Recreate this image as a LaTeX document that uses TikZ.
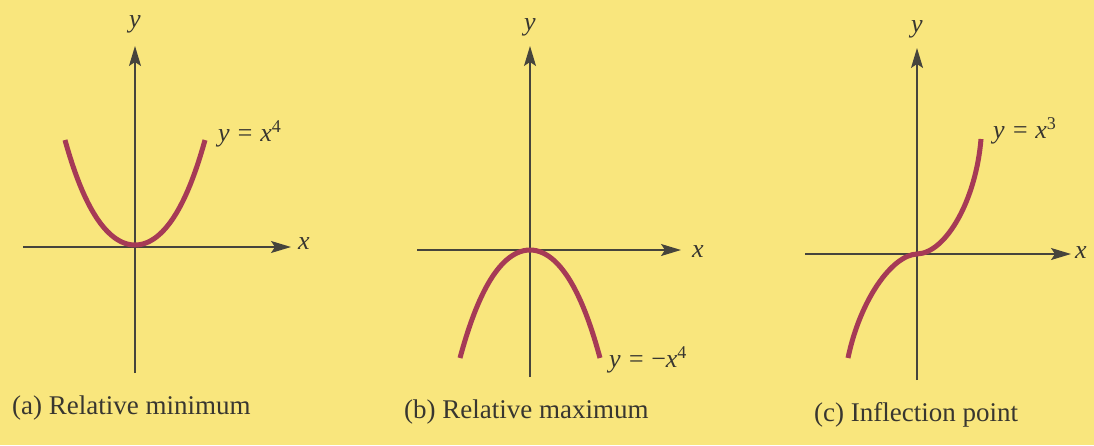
\documentclass[tikz,border=0pt]{standalone}
\usepackage{fontspec}
\setmainfont{Liberation Serif}
\usetikzlibrary{arrows.meta}
\definecolor{bg}{RGB}{249,230,125}
\definecolor{curve}{RGB}{166,58,86}
\definecolor{axis}{RGB}{70,68,60}
\tikzset{
  axisline/.style={draw=axis, line width=1.3pt, -{Stealth[length=20pt,width=12pt,inset=4pt]}},
  plainaxis/.style={draw=axis, line width=1.3pt},
  graph/.style={draw=curve, line width=5pt},
  lab/.style={font=\fontsize{26}{30}\selectfont\itshape, text=axis!80!black, inner sep=0pt},
  captext/.style={font=\fontsize{27}{32}\selectfont, text=axis!80!black, inner sep=0pt, anchor=west}
}
\newcommand{\supnum}[1]{\textsuperscript{\upshape\fontsize{18}{20}\selectfont #1}}
\begin{document}
\begin{tikzpicture}[x=1pt,y=-1pt]
\fill[bg] (0,0) rectangle (1094,445);
\useasboundingbox (0,0) rectangle (1094,445);
% ---- panel a ----
\coordinate (a0) at (135,247);
\coordinate (ayb) at (135,373);
\coordinate (ayt) at (135,46);
\coordinate (axl) at (23,247);
\coordinate (axr) at (291,247);
\draw[plainaxis] (ayb) -- (a0);
\draw[axisline] (a0) -- (ayt);
\draw[plainaxis] (axl) -- (a0);
\draw[axisline] (a0) -- (axr);
\draw[graph] plot[domain=-1:1, samples=80, smooth] ({135+70*\x},{245-105*(0.8*\x*\x+0.2*\x*\x*\x*\x)});
\node[lab] (ay) at (135,24) {y};
\node[lab] (ax) at (304,244) {x};
\node[lab, anchor=west] (af) at (218,134) {y = x\supnum{4}};
\node[captext] (ac) at (12,408) {(a) Relative minimum};
% ---- panel b ----
\coordinate (b0) at (530,250);
\coordinate (byb) at (530,377);
\coordinate (byt) at (530,46);
\coordinate (bxl) at (417,250);
\coordinate (bxr) at (681,250);
\draw[plainaxis] (byb) -- (b0);
\draw[axisline] (b0) -- (byt);
\draw[plainaxis] (bxl) -- (b0);
\draw[axisline] (b0) -- (bxr);
\draw[graph] plot[domain=-1:1, samples=80, smooth] ({530+70*\x},{250+108*(0.8*\x*\x+0.2*\x*\x*\x*\x)});
\node[lab] (by) at (530,27) {y};
\node[lab] (bx) at (698,252) {x};
\node[lab, anchor=west] (bf) at (609,360) {y = {\upshape −}x\supnum{4}};
\node[captext] (bc) at (404,412) {(b) Relative maximum};
% ---- panel c ----
\coordinate (c0) at (917,254);
\coordinate (cyb) at (917,380);
\coordinate (cyt) at (917,48);
\coordinate (cxl) at (805,254);
\coordinate (cxr) at (1071,254);
\coordinate (cbot) at (848,358);
\coordinate (ctop) at (981,139);
\draw[plainaxis] (cyb) -- (c0);
\draw[axisline] (c0) -- (cyt);
\draw[plainaxis] (cxl) -- (c0);
\draw[axisline] (c0) -- (cxr);
\draw[graph] (cbot) .. controls (860,300) and (892,255) .. (c0)
  .. controls (946,253) and (976,200) .. (ctop);
\node[lab] (cy) at (917,29) {y};
\node[lab] (cx) at (1081,253) {x};
\node[lab, anchor=west] (cf) at (993,131) {y = x\supnum{3}};
\node[captext] (cc) at (814,415) {(c) Inflection point};
\end{tikzpicture}
\end{document}
